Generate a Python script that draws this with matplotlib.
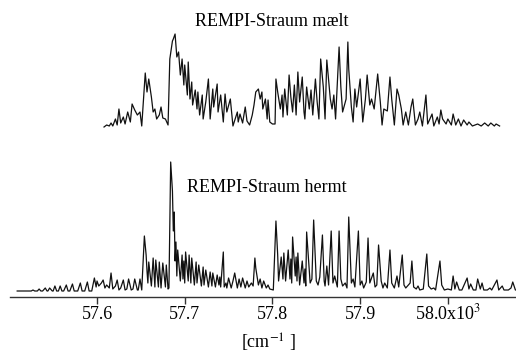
"""REMPI-Straum: mælt og hermt spektrum, teikna med matplotlib"""

import numpy as np
import matplotlib.pyplot as plt

# mælt spektrum (bølgjetal i cm^-1, intensitet i vilkårlege einingar)
maelt_cm = [
    57608, 57611, 57614, 57616, 57618, 57621, 57623, 57625, 57627, 57630,
    57632, 57635, 57638, 57640, 57643, 57646, 57649, 57651, 57654, 57655,
    57657, 57659, 57662, 57664, 57666, 57668, 57671, 57673, 57675, 57678,
    57681, 57683, 57686, 57687, 57689, 57691, 57693, 57695, 57697, 57699,
    57700, 57703, 57704, 57706, 57708, 57709, 57712, 57714, 57715, 57717,
    57720, 57721, 57724, 57727, 57729, 57732, 57733, 57737, 57738, 57741,
    57744, 57746, 57748, 57752, 57755, 57760, 57761, 57763, 57766, 57769,
    57771, 57774, 57777, 57779, 57781, 57784, 57786, 57788, 57789, 57792,
    57794, 57795, 57797, 57800, 57803, 57804, 57806, 57809, 57811, 57812,
    57814, 57817, 57819, 57821, 57823, 57825, 57827, 57829, 57831, 57834,
    57836, 57837, 57839, 57842, 57844, 57846, 57849, 57851, 57853, 57855,
    57858, 57860, 57862, 57866, 57868, 57870, 57872, 57876, 57878, 57880,
    57884, 57886, 57887, 57890, 57892, 57894, 57896, 57900, 57903, 57906,
    57908, 57911, 57913, 57916, 57920, 57923, 57925, 57927, 57931, 57934,
    57936, 57939, 57942, 57944, 57947, 57949, 57952, 57955, 57958, 57960,
    57963, 57966, 57968, 57971, 57975, 57977, 57982, 57984, 57988, 57990,
    57992, 57994, 57998, 58000, 58004, 58006, 58009, 58012, 58015, 58018,
    58022, 58024, 58028, 58031, 58034, 58038, 58042, 58046, 58049, 58053,
    58055, 58057, 58059,
]
maelt_int = [
    0, 2, 1, 4, 1, 8, 2, 18, 4, 10,
    3, 15, 5, 23, 17, 12, 15, 1, 40, 54,
    35, 48, 30, 15, 18, 8, 12, 20, 9, 8,
    2, 68, 86, 88, 93, 70, 75, 52, 68, 42,
    62, 32, 65, 28, 45, 22, 37, 18, 35, 12,
    32, 8, 25, 48, 8, 38, 20, 43, 15, 32,
    5, 33, 15, 28, 1, 15, 5, 13, 4, 20,
    6, 2, 12, 22, 35, 38, 28, 35, 18, 28,
    8, 27, 5, 3, 3, 48, 35, 18, 32, 10,
    38, 12, 52, 30, 15, 42, 12, 55, 25, 50,
    15, 8, 40, 18, 37, 12, 48, 25, 8, 68,
    40, 8, 67, 28, 18, 32, 8, 80, 40, 15,
    28, 85, 58, 20, 5, 38, 20, 48, 5, 28,
    52, 22, 28, 18, 53, 25, 2, 18, 16, 50,
    28, 2, 38, 32, 18, 2, 15, 2, 20, 28,
    2, 8, 15, 1, 32, 3, 13, 1, 10, 3,
    17, 8, 3, 8, 2, 13, 2, 8, 1, 7,
    2, 5, 1, 2, 3, 1, 4, 1, 4, 1,
    3, 2, 1,
]

# hermt spektrum
hermt_cm = [
    57509, 57525, 57527, 57529, 57532, 57534, 57536, 57538, 57541, 57543,
    57544, 57546, 57549, 57550, 57552, 57554, 57556, 57558, 57560, 57562,
    57565, 57567, 57569, 57572, 57574, 57578, 57581, 57583, 57586, 57589,
    57591, 57594, 57597, 57599, 57600, 57602, 57605, 57607, 57609, 57611,
    57614, 57616, 57618, 57621, 57623, 57625, 57627, 57630, 57632, 57634,
    57636, 57639, 57641, 57643, 57646, 57647, 57649, 57651, 57654, 57656,
    57657, 57658, 57659, 57662, 57664, 57666, 57667, 57670, 57671, 57673,
    57675, 57678, 57679, 57681, 57682, 57684, 57686, 57687, 57688, 57689,
    57690, 57691, 57692, 57695, 57697, 57698, 57699, 57700, 57701, 57704,
    57705, 57707, 57708, 57711, 57713, 57714, 57716, 57719, 57721, 57722,
    57724, 57727, 57729, 57731, 57732, 57735, 57737, 57739, 57740, 57741,
    57744, 57745, 57747, 57748, 57750, 57753, 57755, 57757, 57760, 57762,
    57764, 57766, 57769, 57771, 57773, 57776, 57778, 57780, 57781, 57784,
    57786, 57788, 57790, 57793, 57795, 57797, 57801, 57804, 57806, 57807,
    57810, 57812, 57813, 57815, 57818, 57820, 57821, 57822, 57823, 57826,
    57827, 57828, 57829, 57831, 57834, 57836, 57837, 57838, 57839, 57842,
    57843, 57845, 57847, 57850, 57852, 57854, 57857, 57859, 57860, 57862,
    57864, 57867, 57869, 57871, 57874, 57876, 57878, 57880, 57883, 57885,
    57887, 57890, 57892, 57894, 57898, 57900, 57902, 57904, 57907, 57909,
    57911, 57915, 57917, 57919, 57921, 57924, 57926, 57928, 57931, 57934,
    57936, 57939, 57942, 57944, 57948, 57950, 57952, 57957, 57959, 57961,
    57964, 57966, 57968, 57972, 57976, 57978, 57981, 57984, 57986, 57991,
    57993, 57996, 58000, 58004, 58006, 58008, 58010, 58013, 58016, 58022,
    58024, 58026, 58029, 58032, 58034, 58037, 58039, 58041, 58045, 58048,
    58050, 58056, 58058, 58062, 58064, 58069, 58072, 58074, 58077, 58078,
]
hermt_int = [
    0, 0, 1, 0, 0, 2, 0, 0, 3, 0,
    0, 3, 0, 0, 5, 0, 0, 5, 0, 0,
    6, 0, 0, 7, 0, 0, 8, 0, 0, 9,
    0, 0, 13, 4, 10, 5, 8, 11, 3, 6,
    3, 18, 2, 5, 11, 1, 3, 11, 1, 2,
    12, 1, 2, 12, 1, 1, 12, 1, 55, 36,
    20, 8, 29, 5, 33, 4, 31, 4, 29, 3,
    28, 4, 26, 2, 3, 129, 100, 60, 79, 30,
    49, 15, 41, 10, 36, 12, 30, 8, 39, 10,
    36, 8, 33, 6, 29, 8, 26, 5, 24, 6,
    21, 4, 19, 5, 18, 4, 16, 6, 14, 4,
    39, 4, 8, 3, 13, 3, 10, 18, 3, 12,
    4, 13, 3, 10, 4, 8, 5, 33, 23, 6,
    12, 3, 10, 3, 6, 2, 1, 70, 36, 10,
    34, 12, 38, 10, 41, 12, 32, 8, 54, 15,
    34, 10, 38, 6, 30, 8, 22, 5, 59, 20,
    8, 12, 71, 10, 6, 14, 56, 10, 5, 25,
    6, 60, 8, 15, 4, 60, 12, 5, 8, 3,
    74, 8, 12, 4, 60, 6, 10, 3, 9, 53,
    8, 18, 4, 6, 46, 10, 3, 8, 3, 41,
    8, 3, 15, 4, 36, 6, 3, 8, 30, 4,
    2, 5, 1, 2, 37, 5, 2, 3, 1, 30,
    6, 1, 2, 1, 15, 2, 9, 1, 1, 13,
    2, 7, 1, 1, 12, 2, 8, 1, 1, 3,
    1, 11, 1, 5, 1, 1, 3, 9, 1, 1,
]

titlar = ["REMPI-Straum mælt", "REMPI-Straum hermt"]
tick_cm = [57600, 57700, 57800, 57900, 58000]
tick_tekst = ["57.6", "57.7", "57.8", "57.9", "58.0x10$^{3}$"]

W, H = 516, 355
TOPP_FORSKYV = 164  # kor høgt det mælte spekteret ligg over det hermte


def main() -> None:
    plt.rcParams["font.family"] = ["Liberation Serif", "DejaVu Serif"]
    plt.rcParams["mathtext.fontset"] = "stix"

    fig = plt.figure(figsize=(W / 100, H / 100), dpi=100)
    ax = fig.add_axes([10 / W, 58 / H, 506 / W, 297 / H])

    x_m = np.array(maelt_cm) / 1000
    x_h = np.array(hermt_cm) / 1000
    ax.plot(x_m, np.array(maelt_int) + TOPP_FORSKYV, color="#111111", lw=0.9)
    ax.plot(x_h, hermt_int, color="#111111", lw=0.9)

    ax.set_xlim(57.5008, 58.0777)
    ax.set_ylim(-6, 291)

    for side in ["left", "right", "top"]:
        ax.spines[side].set_visible(False)
    ax.spines["bottom"].set_color("#333333")
    ax.spines["bottom"].set_linewidth(1.0)
    ax.set_yticks([])
    ax.set_xticks(np.array(tick_cm) / 1000)
    ax.set_xticklabels(tick_tekst, fontsize=13)
    # baseline-justerte merke, så hevinga i 10^3 ikkje flyttar teksten ned
    ax.tick_params(axis="x", direction="out", length=5, width=1.0,
                   color="#333333", pad=11)
    for lab in ax.get_xticklabels():
        lab.set_verticalalignment("baseline")

    fig.text(272 / W, 1 - 26 / H, titlar[0], ha="center", va="baseline", fontsize=13)
    fig.text(267 / W, 1 - 192 / H, titlar[1], ha="center", va="baseline", fontsize=13)
    fig.text(269 / W, 1 - 349 / H, "[cm$^{-1}$ ]", ha="center", va="baseline",
             fontsize=13)

    fig.savefig("out.png", dpi=100)


if __name__ == "__main__":
    main()
